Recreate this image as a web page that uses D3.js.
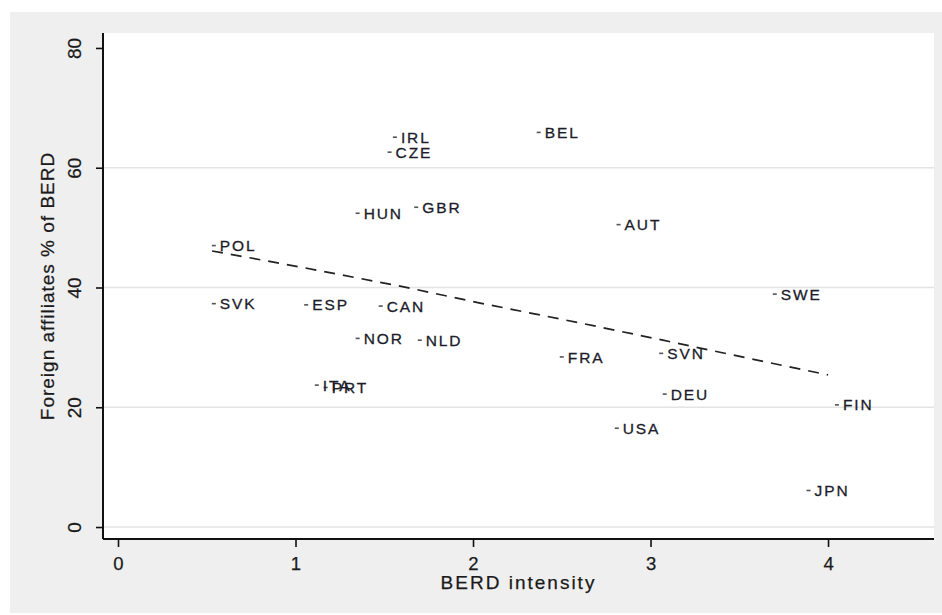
<!DOCTYPE html>
<html>
<head>
<meta charset="utf-8">
<script src="https://cdn.jsdelivr.net/npm/d3@7"></script>
<style>
  html, body { margin: 0; padding: 0; background: #ffffff; }
  svg { display: block; }
  text { font-family: "Liberation Sans", Arial, Helvetica, sans-serif; }
</style>
</head>
<body>
<svg id="chart" width="942" height="615"></svg>
<script>
// ---- Data ----
const countries = ["POL","SVK","ESP","CAN","NOR","NLD","HUN","GBR","IRL","CZE","BEL","AUT","FRA","SVN","DEU","USA","SWE","FIN","JPN","ITA","PRT"];
const berdIntensity = [0.54,0.54,1.06,1.48,1.35,1.70,1.35,1.68,1.56,1.53,2.37,2.82,2.50,3.06,3.08,2.81,3.70,4.05,3.89,1.12,1.17];
const foreignShare  = [47.0,37.3,37.1,36.9,31.5,31.2,52.4,53.4,65.1,62.6,65.9,50.5,28.4,29.0,22.2,16.5,38.9,20.4,6.1,23.7,23.3];

const fitX = [0.53,1.03,1.61,2.04,2.60,3.07,3.66,4.00];
const fitY = [46.1,43.4,40.1,37.4,34.1,31.2,27.5,25.4];

const xTicks = [0,1,2,3,4];
const yTicks = [0,20,40,60,80];
const yGrid  = [0,20,40,60];
const xTitle = "BERD intensity";
const yTitle = "Foreign affiliates % of BERD";

// ---- Layout ----
const svg = d3.select("#chart");
const plot = {left: 103, right: 934, top: 33, bottom: 539};

const x = d3.scaleLinear().domain([-0.0845, 4.597]).range([plot.left, plot.right]);
const y = d3.scaleLinear().domain([-2.0, 82.5]).range([plot.bottom, plot.top]);

// outer grey background
svg.append("rect").attr("x", 10).attr("y", 12).attr("width", 932).attr("height", 601).attr("fill", "#efefef");
// plot region
svg.append("rect").attr("x", plot.left).attr("y", plot.top)
  .attr("width", plot.right - plot.left).attr("height", plot.bottom - plot.top).attr("fill", "#ffffff");

// gridlines
svg.append("g").selectAll("line").data(yGrid).join("line")
  .attr("x1", plot.left).attr("x2", plot.right)
  .attr("y1", d => y(d)).attr("y2", d => y(d))
  .attr("stroke", "#e4e4e4").attr("stroke-width", 1.5);

// axes
const yAxis = d3.axisLeft(y).tickValues(yTicks).tickSize(7).tickFormat(d3.format("d"));
const gy = svg.append("g").attr("transform", `translate(${plot.left},0)`).call(yAxis);
gy.select(".domain").attr("d", `M0,${plot.top}V${plot.bottom}`).attr("stroke", "#111").attr("stroke-width", 2);
gy.selectAll(".tick line").attr("stroke", "#111").attr("stroke-width", 1.6);
gy.selectAll(".tick text")
  .attr("x", 0).attr("dy", null).attr("y", 0)
  .attr("transform", "translate(-22,0) rotate(-90)")
  .attr("text-anchor", "middle")
  .attr("font-size", 19).attr("fill", "#1a1a1a")
  .attr("stroke", "#1a1a1a").attr("stroke-width", 0.25)
  .attr("font-family", "Liberation Sans, Arial, sans-serif");

const xAxis = d3.axisBottom(x).tickValues(xTicks).tickSize(8).tickFormat(d3.format("d"));
const gx = svg.append("g").attr("transform", `translate(0,${plot.bottom})`).call(xAxis);
gx.select(".domain").attr("d", `M${plot.left},0H${plot.right}`).attr("stroke", "#111").attr("stroke-width", 2);
gx.selectAll(".tick line").attr("stroke", "#111").attr("stroke-width", 1.6);
gx.selectAll(".tick text")
  .attr("y", 31).attr("dy", null)
  .attr("font-size", 18.5).attr("fill", "#1a1a1a")
  .attr("stroke", "#1a1a1a").attr("stroke-width", 0.25)
  .attr("font-family", "Liberation Sans, Arial, sans-serif");

// axis titles
svg.append("text")
  .attr("x", (plot.left + plot.right) / 2).attr("y", 589)
  .attr("text-anchor", "middle").attr("font-size", 19)
  .attr("letter-spacing", "2px").attr("fill", "#1a1a1a")
  .attr("stroke", "#1a1a1a").attr("stroke-width", 0.25)
  .text(xTitle);
svg.append("text")
  .attr("transform", `translate(54,${(plot.top + plot.bottom) / 2}) rotate(-90)`)
  .attr("text-anchor", "middle").attr("font-size", 19)
  .attr("letter-spacing", "1px").attr("fill", "#1a1a1a")
  .attr("stroke", "#1a1a1a").attr("stroke-width", 0.25)
  .text(yTitle);

// fit line
const fitData = fitX.map((d, i) => [d, fitY[i]]);
svg.append("path")
  .datum(fitData)
  .attr("d", d3.line().x(d => x(d[0])).y(d => y(d[1])))
  .attr("fill", "none").attr("stroke", "#222").attr("stroke-width", 1.7)
  .attr("stroke-dasharray", "11,8");

// points
const pts = countries.map((c, i) => ({c, bx: berdIntensity[i], fy: foreignShare[i]}));
svg.append("g").selectAll("rect").data(pts).join("rect")
  .attr("x", d => x(d.bx) - 2).attr("y", d => y(d.fy) - 0.8)
  .attr("width", 4).attr("height", 1.6).attr("fill", "#555");

svg.append("g").selectAll("text").data(pts).join("text")
  .attr("x", d => x(d.bx) + 6).attr("y", d => y(d.fy))
  .attr("dy", "0.36em")
  .attr("font-size", 15.5).attr("letter-spacing", "1.9px")
  .attr("fill", "#1c1c2a")
  .attr("stroke", "#1c1c2a").attr("stroke-width", 0.3)
  .text(d => d.c);
</script>
</body>
</html>
